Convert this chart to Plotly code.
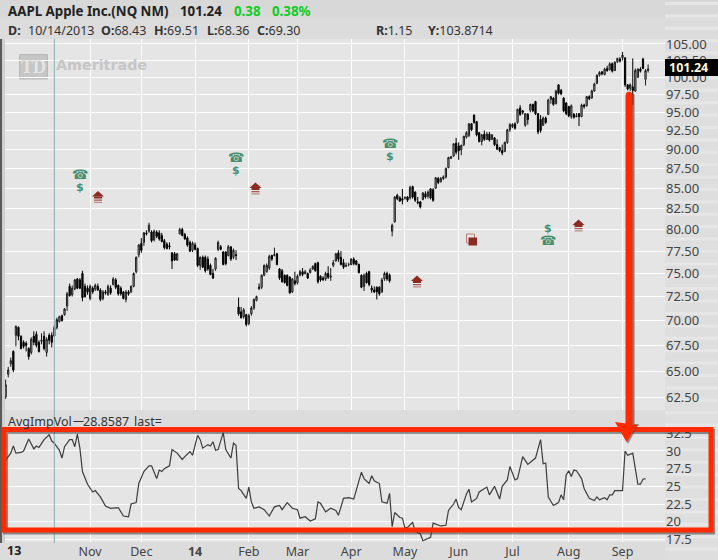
import pandas as pd
import plotly.graph_objects as go

# ---------- data ----------
HOLIDAYS = ["2013-11-28", "2013-12-25", "2014-01-01", "2014-01-20", "2014-02-17",
            "2014-04-18", "2014-05-26", "2014-07-04", "2014-09-01"]
trade_days = [d.strftime("%Y-%m-%d") for d in pd.bdate_range("2013-09-17", "2014-09-16")
              if d.strftime("%Y-%m-%d") not in HOLIDAYS]

open_ = [
 62.6,64.7,65.7,66.9,68.5,69.3,68.4,67.8,67.7,67.2,
 66.8,68.4,68.6,67.8,67.9,68.4,66.8,68.5,68.5,68.43,
 69.3,69.9,70.5,70.6,71.5,73.6,72.7,73.3,74.4,74.3,
 75.0,73.6,73.4,72.3,73.4,73.3,73.6,73.2,72.3,73.0,
 72.7,73.4,73.8,74.3,73.7,73.4,73.0,72.2,73.0,73.0,
 73.6,75.2,77.1,78.4,78.5,79.6,79.8,79.7,78.8,79.7,
 79.6,79.3,78.7,78.3,78.1,77.3,77.2,76.5,79.5,80.0,
 79.4,79.0,78.5,77.6,78.2,77.8,75.9,76.8,76.8,76.6,
 75.9,75.0,75.5,77.7,78.0,77.4,77.4,77.0,78.0,76.8,
 77.1,71.4,70.9,70.4,70.6,69.7,70.7,71.3,72.1,73.5,
 73.5,74.8,75.2,75.6,77.0,77.0,77.2,75.5,75.3,74.8,
 74.8,74.6,73.0,74.2,74.0,74.8,75.2,75.0,75.0,75.1,
 75.5,76.1,76.2,74.7,74.5,74.4,75.0,74.6,75.9,76.4,
 77.3,76.8,76.2,75.8,76.0,76.0,76.6,76.4,76.0,74.8,
 73.6,75.0,75.2,73.4,73.2,73.5,73.5,73.0,74.4,75.0,
 74.8,79.8,80.9,84.1,83.8,83.7,83.8,83.9,83.8,85.2,
 84.5,83.3,83.3,83.6,84.3,84.0,84.9,84.8,85.0,86.2,
 85.8,86.2,86.4,87.6,88.8,89.1,90.8,90.4,89.9,90.6,
 91.6,91.8,93.4,94.6,93.7,92.2,91.0,92.0,91.3,92.0,
 91.3,91.5,90.6,90.2,89.8,89.7,90.9,92.6,93.0,93.4,
 93.6,95.6,95.2,93.2,94.7,95.3,96.1,96.5,94.8,94.0,
 93.2,94.2,94.7,96.8,97.0,96.2,98.9,98.1,97.0,96.3,
 95.8,94.4,94.7,94.4,94.8,94.4,96.0,95.9,97.2,97.0,
 98.0,99.1,100.3,100.8,100.4,101.3,101.1,102.0,101.0,102.3,
 102.7,102.9,102.9,98.9,98.4,98.6,98.0,100.0,101.2,102.7,99.7,101.0,
]
high = [
 64.2,65.4,66.3,67.0,69.5,69.4,68.5,68.0,67.9,67.3,
 68.3,68.9,68.9,68.0,68.7,68.9,68.3,68.7,68.8,69.51,
 70.3,70.5,70.6,71.3,73.0,73.9,73.7,74.4,74.5,74.5,
 75.3,73.9,73.7,73.8,73.6,73.9,73.9,73.4,73.2,73.2,
 73.8,73.7,74.6,74.5,73.8,73.6,73.1,73.2,73.2,73.7,
 75.1,76.9,78.3,79.0,79.7,79.9,80.8,79.9,80.0,79.9,
 79.9,79.6,78.9,78.5,78.5,77.4,77.4,77.3,80.2,80.2,
 79.6,79.2,78.7,78.6,78.5,77.9,76.9,77.0,77.0,76.9,
 76.1,75.5,76.8,78.7,78.2,77.5,77.5,78.2,78.0,77.8,
 77.6,72.4,71.4,71.3,70.7,70.7,71.5,72.3,72.6,73.9,
 74.9,76.0,76.1,77.1,77.1,77.9,77.3,75.6,75.5,74.9,
 74.9,74.7,74.5,75.2,74.9,75.4,75.6,75.4,75.1,75.6,
 75.9,76.2,76.3,74.8,74.7,75.2,75.8,75.6,76.5,77.3,
 77.6,77.5,76.6,76.2,76.2,76.7,76.8,76.5,76.1,74.9,
 75.0,75.2,75.3,73.7,73.6,73.6,73.6,74.5,75.2,75.2,
 75.0,80.7,84.0,84.3,84.0,84.9,84.0,84.0,85.3,85.3,
 84.6,83.9,83.4,84.5,84.6,84.7,85.0,85.0,86.4,86.4,
 86.4,86.6,87.6,89.0,89.1,90.8,91.5,90.9,90.6,91.8,
 92.4,93.5,93.5,94.7,93.8,92.3,92.0,92.5,92.3,92.3,
 92.0,91.6,91.3,90.3,90.6,91.0,92.7,93.5,93.5,93.6,
 95.5,96.0,95.3,94.9,94.9,96.2,96.2,96.6,94.9,94.6,
 94.4,94.4,96.9,97.3,97.1,98.2,99.0,98.3,97.1,96.4,
 95.9,96.1,94.9,94.9,94.9,96.2,96.2,97.3,97.4,98.2,
 99.2,100.4,100.9,100.9,101.4,101.7,102.2,102.2,102.4,102.9,
 103.0,103.8,102.9,99.0,99.1,102.8,101.3,101.3,101.5,102.9,101.2,101.9,
]
low = [
 62.4,64.4,65.4,64.9,67.4,68.0,67.1,67.2,66.9,66.1,
 66.6,67.5,67.3,66.8,67.6,67.0,66.4,67.6,67.3,68.36,
 69.1,69.8,69.9,70.5,71.0,72.5,72.5,73.2,73.3,73.3,
 72.0,72.4,72.7,72.1,72.8,73.1,73.1,72.0,72.1,72.7,
 72.6,72.7,73.7,73.3,72.6,72.6,72.2,71.9,72.6,72.9,
 73.5,75.0,76.8,77.3,78.1,79.3,79.6,78.5,78.6,79.0,
 78.7,78.5,77.7,77.7,77.7,75.5,76.4,76.4,79.4,79.2,
 78.8,78.0,77.4,77.4,77.6,75.7,75.4,75.6,75.1,75.3,
 74.8,74.4,75.3,77.5,77.6,75.9,75.9,76.9,76.4,76.6,
 76.5,70.5,70.2,70.2,69.4,69.5,70.5,71.1,72.0,73.2,
 73.3,74.7,75.1,75.4,76.4,76.9,75.9,74.3,74.0,73.9,
 73.6,72.8,72.9,73.7,73.8,74.7,74.7,74.9,74.4,75.0,
 75.4,75.2,73.9,74.1,74.2,74.2,74.4,74.2,75.7,76.3,
 76.3,75.9,75.5,75.7,75.8,75.9,75.9,75.9,75.0,73.4,
 73.1,73.9,73.6,72.9,72.9,72.2,72.6,72.9,74.2,74.2,
 74.0,79.2,80.8,83.5,83.3,83.0,83.6,83.3,83.6,83.7,
 83.3,83.0,82.5,83.5,83.7,83.7,83.6,83.3,84.9,85.5,
 85.7,86.0,86.2,87.5,88.7,89.0,89.3,88.6,89.2,90.4,
 91.4,91.6,92.4,93.4,91.7,90.9,90.5,91.1,91.2,91.0,
 91.2,90.4,89.9,89.6,89.2,89.6,90.7,92.3,92.8,92.6,
 93.4,94.5,94.7,93.0,93.3,95.0,95.0,94.6,92.0,92.2,
 93.1,93.4,94.6,96.2,95.9,96.1,97.5,97.4,95.0,94.6,
 94.3,94.1,94.1,94.3,93.1,94.3,95.5,95.8,96.7,96.9,
 97.9,99.0,100.1,100.3,100.3,100.8,101.0,100.7,100.9,102.1,
 102.2,102.5,98.6,98.1,98.0,96.0,97.9,99.9,100.7,101.2,98.8,100.7,
]
close = [
 63.7,65.1,66.0,65.1,69.4,68.4,67.2,67.4,67.5,66.4,
 68.1,67.8,67.5,66.9,68.0,67.2,68.1,68.0,67.8,69.30,
 70.1,70.4,70.0,71.2,72.8,72.6,73.4,74.3,73.4,73.4,
 72.4,72.5,73.0,73.6,73.0,73.7,73.2,72.2,73.0,72.9,
 73.6,72.9,74.4,73.5,72.8,72.8,72.3,73.0,72.8,73.6,
 75.0,76.8,78.2,77.6,79.6,79.5,80.5,78.7,79.8,79.2,
 78.9,78.6,77.9,77.8,78.0,76.4,76.5,77.2,80.0,79.3,
 78.9,78.2,77.5,78.4,77.7,75.9,76.8,75.7,75.3,75.5,
 74.9,74.5,76.7,78.5,77.7,76.0,76.1,78.0,76.6,77.6,
 77.0,70.7,70.3,71.1,69.6,70.5,71.3,72.2,72.5,73.4,
 74.8,75.9,75.9,76.9,76.6,77.1,76.0,74.5,74.1,74.0,
 73.7,72.9,74.4,73.9,74.7,75.2,74.9,75.2,74.5,75.4,
 75.8,75.3,74.1,74.3,74.3,75.0,74.6,74.7,76.2,77.2,
 76.6,76.0,75.7,75.9,76.0,76.6,76.1,76.0,75.1,73.5,
 74.8,74.0,73.8,73.2,73.0,73.0,72.8,74.3,75.0,74.4,
 74.2,80.5,83.9,83.7,83.4,83.5,83.8,83.5,85.1,83.9,
 83.5,83.2,82.7,84.4,83.9,84.5,83.8,83.5,86.3,85.7,
 86.2,86.4,87.5,88.9,89.0,90.7,89.6,89.8,90.5,91.7,
 92.2,93.4,92.6,93.6,91.9,91.0,91.9,91.3,92.0,91.2,
 91.9,90.6,90.0,89.8,89.5,90.9,92.6,93.3,93.3,92.8,
 95.4,94.7,95.0,94.8,94.0,96.1,95.2,94.8,92.3,92.5,
 94.2,93.6,96.7,97.2,96.1,98.0,97.7,97.6,95.2,94.8,
 94.5,95.9,94.3,94.5,94.4,96.0,95.8,97.2,96.9,98.0,
 99.0,100.3,100.7,100.5,101.2,101.0,102.0,100.9,102.2,102.8,
 102.4,103.3,98.9,98.3,98.9,98.1,101.0,101.2,100.9,101.3,101.0,101.24,
]

iv_day = [
 0,2,3,4,6,7,9,11,12,13,15,17,18,19,21,22,23,25,26,27,28,29,30,31,32,34,35,37,39,41,43,44,46,48,49,51,52,54,56,57,
 59,60,61,62,64,65,67,69,70,72,73,75,76,77,79,80,81,82,83,85,86,88,89,90,91,92,94,95,96,97,99,101,103,105,107,108,
 110,112,114,115,117,119,121,122,123,125,127,129,130,132,134,136,139,140,142,143,144,146,147,149,150,151,152,154,155,
 156,157,159,160,162,163,166,167,170,172,173,175,176,177,178,180,181,182,184,185,188,189,191,193,194,196,197,199,200,
 202,204,207,209,210,211,212,214,216,217,218,219,220,221,222,223,225,226,228,230,231,232,234,235,236,237,238,241,242,
 243,245,247,248,249,250,
]
iv_value = [
 28.7,29.7,30.7,29.7,29.8,30.0,31.7,30.3,30.7,30.5,31.6,32.3,31.4,31.1,30.1,29.0,30.6,31.6,31.6,30.6,32.4,30.4,27.1,26.1,25.3,24.2,24.4,23.5,22.2,21.9,21.9,22.0,20.8,20.7,22.5,22.7,25.4,27.1,27.9,27.9,
 26.1,27.3,27.1,27.5,27.9,30.2,29.7,28.8,29.2,29.9,29.4,32.2,31.6,30.4,30.9,30.7,31.3,30.1,30.2,32.6,30.2,29.0,31.1,30.8,24.7,24.4,23.3,24.9,22.8,21.9,22.1,21.7,20.8,22.1,22.3,21.7,
 22.7,21.9,21.7,20.5,20.7,20.1,20.4,22.8,22.6,21.4,21.9,21.6,20.9,23.3,23.4,23.2,27.0,26.1,25.4,26.5,25.8,25.4,22.8,22.6,24.0,19.3,21.3,20.6,20.5,
 19.1,19.2,19.9,18.6,18.3,17.3,17.8,19.8,19.4,19.5,21.6,22.5,23.2,22.0,21.7,23.9,24.6,22.8,23.3,24.2,24.9,23.8,25.0,23.2,25.0,25.9,27.8,25.9,26.1,
 29.2,28.1,29.0,31.6,28.2,28.3,23.5,22.3,22.7,23.8,23.1,26.6,27.2,26.4,27.3,27.2,26.1,24.7,23.3,23.0,23.5,23.1,23.4,23.1,23.8,23.8,24.4,24.4,30.0,
 29.4,29.7,25.3,25.3,26.0,26.1,
]

month_ticks = ["2013-11-01", "2013-12-02", "2014-01-02", "2014-02-03", "2014-03-03", "2014-04-01",
               "2014-05-01", "2014-06-02", "2014-07-01", "2014-08-01", "2014-09-02"]
month_labels = ["Nov", "Dec", "<b>14</b>", "Feb", "Mar", "Apr", "May", "Jun", "Jul", "Aug", "Sep"]
price_ticks = [62.5, 65, 67.5, 70, 72.5, 75, 77.5, 80, 82.5, 85, 87.5, 90, 92.5, 95, 97.5, 100, 102.5, 105]
price_labels = [f"{v:.2f}" for v in price_ticks]
iv_ticks = [17.5, 20, 22.5, 25, 27.5, 30, 32.5]
iv_labels = ["17.5", "20", "22.5", "25", "27.5", "30", "32.5"]

W, H = 718, 560
X = lambda p: p / W
Y = lambda p: 1 - p / H
FONT = "Noto Sans"
GREEN = "#4a8f6c"
MAROON = "#8c2a24"
RED = "#ff2a00"

fig = go.Figure()
fig.add_trace(go.Candlestick(
    x=trade_days, open=open_, high=high, low=low, close=close,
    xaxis="x", yaxis="y", whiskerwidth=0, showlegend=False,
    increasing=dict(line=dict(color="#1a1a1a", width=1), fillcolor="#c4c4c4"),
    decreasing=dict(line=dict(color="#000000", width=1), fillcolor="#000000"),
))
fig.add_trace(go.Scatter(
    x=[trade_days[k] for k in iv_day], y=iv_value, mode="lines", xaxis="x2", yaxis="y2",
    line=dict(color="#3c3c3c", width=1.2), showlegend=False,
))

shapes, notes = [], []
def rect(x0, y0, x1, y1, fill, layer="below", line=None):
    shapes.append(dict(type="rect", xref="paper", yref="paper", x0=X(x0), x1=X(x1), y0=Y(y0), y1=Y(y1),
                       fillcolor=fill, line=line or dict(width=0), layer=layer))
def poly(points, fill, layer="above"):
    d = "M " + " L ".join(f"{X(a):.5f},{Y(b):.5f}" for a, b in points) + " Z"
    shapes.append(dict(type="path", xref="paper", yref="paper", path=d, fillcolor=fill,
                       line=dict(width=0), layer=layer))
def text(x, y, s, size=12.5, color="#333333", anchor="left", family=FONT):
    notes.append(dict(xref="paper", yref="paper", x=X(x), y=Y(y), text=s, showarrow=False,
                      xanchor=anchor, yanchor="middle", align=anchor, borderpad=0,
                      font=dict(family=family, size=size, color=color)))

# chrome bands
rect(0, 0, 718, 39, "#dcdcdc")
rect(0, 0, 718, 18, "#d8d8d8")
rect(665, 39, 718, 560, "#dedede")
for k in range(0, 90):
    if k % 2 == 0:
        rect(665, 2 + k * 6.2, 718, 5 + k * 6.2, "#e6e6e6")
rect(0, 411, 665, 428, "#dcdcdc")
rect(0, 543, 665, 560, "#dcdcdc")
rect(0, 39, 2, 543, "#5a5a5a")
rect(2, 39, 5, 543, "#cfcfcf")

# watermark
rect(19.5, 54.5, 47.5, 79, "#c6c6c6", line=dict(width=1, color="#b8b8b8"))
text(33.5, 67, "<b>TD</b>", 18, "#e4e4e4", "center", "Liberation Serif")
text(55, 65, "<b>Ameritrade</b>", 14.3, "#c6c6c6", "left", "DejaVu Sans")

# cursor line
shapes.append(dict(type="line", xref="x", yref="paper", x0="2013-10-14", x1="2013-10-14",
                   y0=Y(39), y1=Y(543), line=dict(color="#7fb1ad", width=1), layer="above"))

# event icons
def house(cx, top):
    poly([(cx, top), (cx + 6, top + 5.5), (cx - 6, top + 5.5)], MAROON)
    rect(cx - 4, top + 5.5, cx + 4, top + 7.5, MAROON, "above")
    rect(cx - 4, top + 8.5, cx + 4, top + 9.8, "#a75a55", "above")
    rect(cx - 4, top + 10.8, cx + 4, top + 12, "#b98884", "above")
def money(cx, y_phone, y_dollar):
    text(cx, y_phone, "☎", 13, GREEN, "center", "DejaVu Sans")
    text(cx, y_dollar, "<b>$</b>", 11, GREEN, "center", "DejaVu Sans")
money(79.5, 174.5, 187.5)
money(235.5, 157, 170)
money(389.5, 143, 156)
money(548, 240, 228)
house(98, 191)
house(255.5, 182.5)
house(417, 275.5)
house(578.5, 219.5)
rect(466.5, 234, 474.5, 243, "rgba(0,0,0,0)", "above", dict(width=1, color="#b8807c"))
rect(468.5, 237.5, 477, 245.5, MAROON, "above")

# red frame with shadow, and arrow
rect(5.5, 431.5, 712.5, 532, "rgba(0,0,0,0)", "above", dict(width=5, color="rgba(60,60,60,0.55)"))
rect(4, 429.5, 711, 530, "rgba(0,0,0,0)", "above", dict(width=5, color=RED))
rect(632, 94, 634.5, 424, "rgba(70,70,70,0.65)", "above")
poly([(625.5, 95), (626.5, 92.5), (629, 91.5), (631.5, 92.5), (632.5, 95), (632.5, 424), (625.5, 424)], RED)
poly([(617, 424), (639, 424), (628, 444)], "rgba(70,70,70,0.55)")
poly([(615, 422), (637.5, 425), (626.5, 442)], RED)

# price tag
rect(665, 59, 718, 76, "#000000", "above")
text(668, 67.5, "<b>101.24</b>", 12.5, "#fff8d8")

# header texts
text(7, 11, "<b>AAPL Apple Inc.(NQ NM)</b>", 13.3, "#222222")
text(179, 11, "<b>101.24</b>", 13.3, "#222222")
text(233, 11, "<b>0.38</b>", 13.3, "#11cc22")
text(271, 11, "<b>0.38%</b>", 13.3, "#11cc22")
text(7, 30, "<b>D:</b>", 12.5)
text(27, 30, "10/14/2013", 12.5)
text(100, 30, "<b>O:</b>68.43", 12.5)
text(153, 30, "<b>H:</b>69.51", 12.5)
text(206, 30, "<b>L:</b>68.36", 12.5)
text(256, 30, "<b>C:</b>69.30", 12.5)
text(375, 30, "<b>R:</b>1.15", 12.5)
text(427, 30, "<b>Y:</b>103.8714", 12.5)
text(7, 421, "AvgImpVol", 12.5)
text(72, 419, "—", 11)
text(82, 421, "28.8587", 12.5)
text(133, 421, "last=", 12.5)
text(6, 550.5, "<b>13</b>", 12.5, "#222222")

fig.update_layout(
    width=W, height=H, margin=dict(l=0, r=0, t=0, b=0, autoexpand=False),
    paper_bgcolor="#dcdcdc", plot_bgcolor="#e5e5e5",
    shapes=shapes, annotations=notes, showlegend=False,
    xaxis=dict(domain=[X(5), X(665)], type="category", categoryorder="array", categoryarray=trade_days,
               range=[-0.26, 257.6], anchor="y", rangeslider=dict(visible=False), automargin=False,
               tickmode="array", tickvals=[trade_days[0]] + month_ticks, ticktext=[""] * 12, showticklabels=False,
               showgrid=True, gridcolor="#ffffff", gridwidth=1, ticks="", showline=False, zeroline=False),
    yaxis=dict(domain=[Y(410), Y(39)], type="log", range=[1.78815, 2.02436], side="right", anchor="x", automargin=False,
               tickmode="array", tickvals=price_ticks, ticktext=price_labels,
               tickfont=dict(family=FONT, size=13, color="#444444"),
               showgrid=True, gridcolor="#ffffff", gridwidth=1.3, ticks="", showline=False, zeroline=False),
    xaxis2=dict(domain=[X(5), X(665)], type="category", categoryorder="array", categoryarray=trade_days,
                matches="x", anchor="y2", automargin=False, tickmode="array", tickvals=[trade_days[0]] + month_ticks,
                ticktext=[""] + month_labels, tickfont=dict(family=FONT, size=12.5, color="#444444"),
                tickangle=0, showgrid=True, gridcolor="#ffffff", gridwidth=1, ticks="", showline=False, zeroline=False),
    yaxis2=dict(domain=[Y(542), Y(428)], range=[17.13, 33.25], side="right", anchor="x2", automargin=False,
                tickmode="array", tickvals=iv_ticks, ticktext=iv_labels,
                tickfont=dict(family=FONT, size=13, color="#444444"),
                showgrid=True, gridcolor="#ffffff", gridwidth=1.3, ticks="", showline=False, zeroline=False),
)

fig.write_html("out.html", config=dict(displayModeBar=False),
               post_script="document.body.style.margin='0';document.body.style.overflow='hidden';")
